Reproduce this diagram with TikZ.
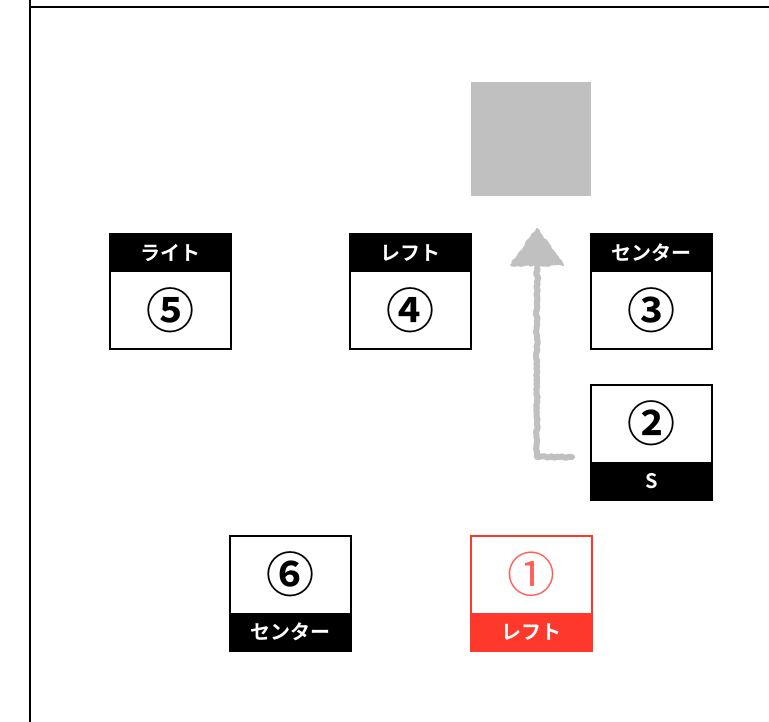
\documentclass[tikz,border=0pt]{standalone}
\usepackage{fontspec}
\setmainfont{Noto Sans CJK JP}
\newfontfamily\jpb{Noto Sans CJK JP}[BoldFont={* Bold}]
\usetikzlibrary{decorations.pathmorphing,positioning}
\definecolor{myred}{RGB}{255,56,44}
\definecolor{mygray}{RGB}{192,192,192}
\begin{document}
\begin{tikzpicture}[x=1pt,y=1pt,
  hdr/.style={fill=black,text=white,minimum width=121pt,minimum height=38pt,inner sep=0pt,font=\jpb\bfseries\fontsize{20}{20}\selectfont},
  bodyc/.style={minimum width=121pt,minimum height=76pt,inner sep=0pt,font=\jpb\bfseries\fontsize{48}{48}\selectfont},
  outl/.style={draw=black,line width=2pt},
  sketch/.style={draw=mygray,line width=6pt,decorate,decoration={random steps,segment length=2.5pt,amplitude=0.9pt},line join=round,line cap=round}
]
\useasboundingbox (0,0) rectangle (769,-722);
% frame
\draw[line width=2.5pt] (30,0) -- (30,-722);
\draw[line width=2.5pt] (30,-7) -- (769,-7);
% gray square
\node[fill=mygray,minimum width=120pt,minimum height=114pt,inner sep=0pt,anchor=north west] (sq) at (471,-82) {};
% box 5
\node[hdr,anchor=north west] (h5) at (110,-234) {ライト};
\node[bodyc,below=0pt of h5] (n5) {⑤};
\draw[outl] (h5.north west) rectangle (n5.south east);
% box 4
\node[hdr,anchor=north west] (h4) at (350,-234) {レフト};
\node[bodyc,below=0pt of h4] (n4) {④};
\draw[outl] (h4.north west) rectangle (n4.south east);
% box 3
\node[hdr,anchor=north west] (h3) at (591,-234) {センター};
\node[bodyc,below=0pt of h3] (n3) {③};
\draw[outl] (h3.north west) rectangle (n3.south east);
% box 2
\node[bodyc,anchor=north west] (n2) at (591,-385) {②};
\node[hdr,below=0pt of n2] (f2) {S};
\draw[outl] (n2.north west) rectangle (f2.south east);
% box 6
\node[bodyc,anchor=north west] (n6) at (230,-536) {⑥};
\node[hdr,below=0pt of n6] (f6) {センター};
\draw[outl] (n6.north west) rectangle (f6.south east);
% box 1
\node[bodyc,anchor=north west,text=myred!80] (n1) at (471,-536) {\mdseries ①};
\node[hdr,below=0pt of n1,fill=myred] (f1) {レフト};
\draw[outl,draw=myred] (n1.north west) rectangle (f1.south east);
% sketchy arrow
\coordinate (a0) at (572,-457);
\coordinate (a1) at (537,-457);
\coordinate (a2) at (537,-268);
\draw[sketch] (a0) -- (a1) -- (a2);
\coordinate (t1) at (511,-265);
\coordinate (t2) at (563,-265);
\coordinate (t3) at (537,-229);
\filldraw[sketch,fill=mygray,line width=2pt] (t1) -- (t2) -- (t3) -- cycle;
\end{tikzpicture}
\end{document}
